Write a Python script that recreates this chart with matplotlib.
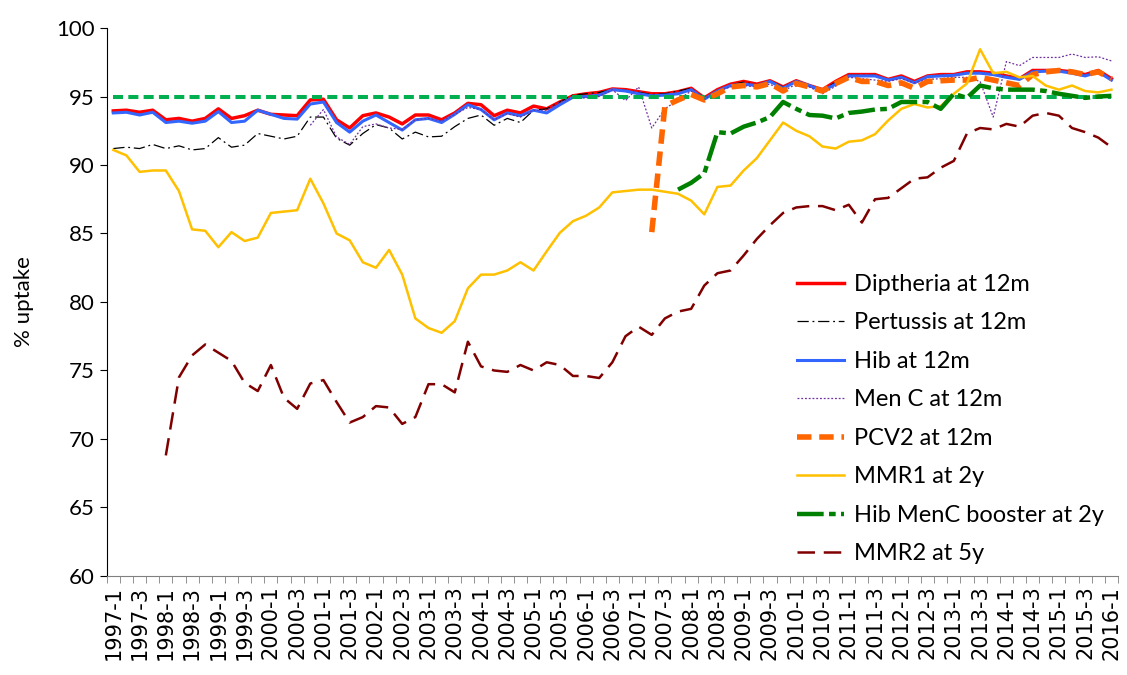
import numpy as np
import matplotlib.pyplot as plt

nan = np.nan

# quarters 1997-1 .. 2016-1
quarters = [f"{y}-{q}" for y in range(1997, 2017) for q in range(1, 5)][:77]

diptheria = [93.95, 94.0, 93.85, 94.0, 93.3, 93.4, 93.2, 93.4, 94.1, 93.4, 93.6, 94.0, 93.7, 93.65, 93.6, 94.75,
             94.8, 93.3, 92.7, 93.6, 93.8, 93.5, 93.0, 93.65, 93.65, 93.3, 93.8, 94.5, 94.4, 93.6, 94.0, 93.8,
             94.3, 94.1, 94.6, 95.05, 95.2, 95.3, 95.55, 95.5, 95.35, 95.2, 95.2, 95.35, 95.6, 94.9, 95.5, 95.9,
             96.1, 95.9, 96.15, 95.7, 96.15, 95.8, 95.5, 96.1, 96.6, 96.6, 96.6, 96.25, 96.5, 96.1, 96.5, 96.6,
             96.6, 96.8, 96.8, 96.7, 96.5, 96.3, 96.9, 96.9, 96.9, 96.8, 96.6, 96.9, 96.3]
pertussis = [91.2, 91.3, 91.2, 91.5, 91.2, 91.4, 91.1, 91.2, 92.0, 91.3, 91.45, 92.3, 92.1, 91.9, 92.1, 93.5,
             93.5, 91.95, 91.45, 92.3, 92.95, 92.7, 91.9, 92.4, 92.05, 92.1, 92.8, 93.4, 93.65, 92.9, 93.4, 93.1,
             94.0, 94.1, 94.6, 95.1, 95.2, 95.3, 95.5, 95.45, 95.3, 95.15, 95.2, 95.4, 95.6, 94.85, 95.45, 95.85,
             96.05, 95.85, 96.15, 95.7, 96.1, 95.75, 95.45, 96.05, 96.55, 96.55, 96.55, 96.2, 96.45, 96.05, 96.45,
             96.55, 96.55, 96.75, 96.75, 96.65, 96.45, 96.25, 96.85, 96.85, 96.85, 96.75, 96.55, 96.85, 96.25]
hib = [93.8, 93.85, 93.65, 93.85, 93.1, 93.2, 93.05, 93.2, 93.9, 93.1, 93.2, 94.0, 93.7, 93.4, 93.35, 94.45,
       94.6, 93.1, 92.4, 93.2, 93.65, 93.1, 92.55, 93.3, 93.4, 93.1, 93.7, 94.4, 94.05, 93.3, 93.8, 93.6,
       94.0, 93.8, 94.4, 94.95, 95.0, 95.1, 95.5, 95.4, 95.2, 95.05, 95.1, 95.2, 95.5, 94.8, 95.4, 95.8,
       95.9, 95.8, 96.1, 95.6, 96.1, 95.8, 95.4, 95.9, 96.5, 96.5, 96.5, 96.2, 96.4, 96.0, 96.45, 96.5,
       96.55, 96.7, 96.7, 96.6, 96.4, 96.25, 96.8, 96.85, 96.85, 96.7, 96.5, 96.8, 96.2]
men_c = [nan] * 15 + [92.9, 94.05, 92.05, 91.5, 92.8, 93.0, 92.7, 92.6, 93.3, 93.4, 93.2, 93.7, 94.2, 94.05,
                      93.3, 93.75, 93.5, 94.0, 94.0, 94.6, 94.9, 94.9, 95.0, 95.5, 94.7, 95.7, 92.7, 94.1,
                      94.75, 95.4, 94.8, 95.4, 95.7, 95.8, 95.7, 95.9, 95.4, 95.9, 95.7, 95.2, 95.75, 96.4,
                      96.3, 96.2, 96.1, 96.3, 96.0, 96.25, 96.3, 96.4, 96.4, 96.1, 93.5, 97.55, 97.25, 97.85,
                      97.85, 97.85, 98.1, 97.85, 97.9, 97.6]
pcv2 = [nan] * 41 + [85.1, 94.3, 94.75, 95.15, 94.75, 95.2, 95.7, 95.8, 95.7, 95.95, 95.4, 95.95, 95.7, 95.4,
                     95.95, 96.4, 96.1, 96.1, 95.8, 96.0, 95.6, 96.1, 96.15, 96.2, 96.2, 96.4, 96.2, 96.0,
                     95.8, 96.6, 96.8, 96.9, 96.8, 96.6, 96.8, 96.3]
mmr1 = [91.1, 90.7, 89.5, 89.6, 89.6, 88.1, 85.3, 85.2, 84.0, 85.1, 84.45, 84.7, 86.5, 86.6, 86.7, 89.0,
        87.2, 85.0, 84.5, 82.9, 82.5, 83.8, 82.0, 78.8, 78.1, 77.75, 78.6, 81.0, 82.0, 82.0, 82.3, 82.9,
        82.3, 83.7, 85.05, 85.9, 86.3, 86.9, 88.0, 88.1, 88.2, 88.2, 88.05, 87.9, 87.4, 86.4, 88.4, 88.5,
        89.6, 90.5, 91.8, 93.1, 92.5, 92.1, 91.35, 91.2, 91.7, 91.8, 92.25, 93.25, 94.1, 94.45, 94.2, 94.3,
        95.2, 95.95, 98.45, 96.7, 96.8, 96.4, 96.5, 95.8, 95.5, 95.8, 95.4, 95.3, 95.5]
hib_menc = [nan] * 43 + [88.2, 88.7, 89.4, 92.4, 92.3, 92.8, 93.1, 93.5, 94.6, 94.1, 93.65, 93.6, 93.4, 93.8,
                         93.9, 94.05, 94.1, 94.6, 94.6, 94.6, 94.1, 95.2, 94.9, 95.8, 95.6, 95.5, 95.5, 95.5,
                         95.4, 95.2, 95.05, 94.9, 95.0, 95.05]
mmr2 = [nan] * 4 + [68.8, 74.5, 76.1, 76.9, 76.3, 75.7, 74.1, 73.5, 75.4, 73.0, 72.2, 74.05, 74.3, 72.7, 71.2,
                    71.6, 72.4, 72.3, 71.1, 71.6, 74.0, 74.0, 73.4, 77.1, 75.3, 75.0, 74.9, 75.4, 75.0, 75.6,
                    75.4, 74.6, 74.6, 74.45, 75.6, 77.5, 78.2, 77.6, 78.8, 79.3, 79.5, 81.2, 82.1, 82.3, 83.4,
                    84.6, 85.6, 86.5, 86.9, 87.0, 87.0, 86.7, 87.1, 85.8, 87.5, 87.6, 88.3, 89.0, 89.1, 89.8,
                    90.3, 92.3, 92.7, 92.6, 93.0, 92.8, 93.6, 93.8, 93.6, 92.7, 92.4, 92.0, 91.3]
target = 95

plt.rcParams['font.family'] = ['Lato', 'DejaVu Sans']

x = np.arange(len(quarters))
fig = plt.figure(figsize=(11.27, 6.75), dpi=100)
ax = fig.add_axes([0.0947, 0.1467, 0.8973, 0.8118])

ax.plot(x, diptheria, color='#FF0000', lw=2.5, label='Diptheria at 12m')
ax.plot(x, pertussis, color='black', lw=0.9, dashes=(9, 3, 1.5, 3), label='Pertussis at 12m')
ax.plot(x, hib, color='#3366FF', lw=2.2, label='Hib at 12m')
ax.plot(x, men_c, color='#7030A0', lw=0.9, dashes=(1.5, 1.5), label='Men C at 12m')
ax.plot(x, np.full(len(x), target), color='#00B050', lw=2.9, dashes=(2.5, 1.3))
ax.plot(x, pcv2, color='#FF6600', lw=4, dashes=(2.6, 1.4), label='PCV2 at 12m')
ax.plot(x, mmr1, color='#FFC000', lw=1.8, label='MMR1 at 2y')
ax.plot(x, hib_menc, color='#008000', lw=3.2, dashes=(6, 1.2, 1.5, 1.2), label='Hib MenC booster at 2y')
ax.plot(x, mmr2, color='#800000', lw=1.8, dashes=(7, 3.5), label='MMR2 at 5y')

ax.set_ylim(60, 100)
ax.set_yticks(range(60, 101, 5))
ax.set_xlim(-0.5, len(x) - 0.5)
ax.set_xticks(x[::2])
ax.set_xticklabels(quarters[::2], rotation=90, fontsize=15, family='DejaVu Sans')
ax.set_xticks(np.arange(-0.5, len(x)), minor=True)
ax.tick_params(axis='x', which='major', length=0, pad=7)
ax.tick_params(axis='x', which='minor', length=5, color='#808080')
ax.tick_params(axis='y', length=5, labelsize=16)
ax.set_ylabel('% uptake', fontsize=16, labelpad=16)

for s in ['top', 'right']:
    ax.spines[s].set_visible(False)
ax.spines['bottom'].set_color('#808080')
ax.spines['left'].set_color('black')

ax.legend(loc='upper left', bbox_to_anchor=(797 / 1127, 1 - 274 / 675), bbox_transform=fig.transFigure,
          frameon=False, fontsize=17, handlelength=2.0, handletextpad=0.4, labelspacing=0.74,
          borderpad=0, borderaxespad=0)

plt.savefig('out.png', dpi=100)
